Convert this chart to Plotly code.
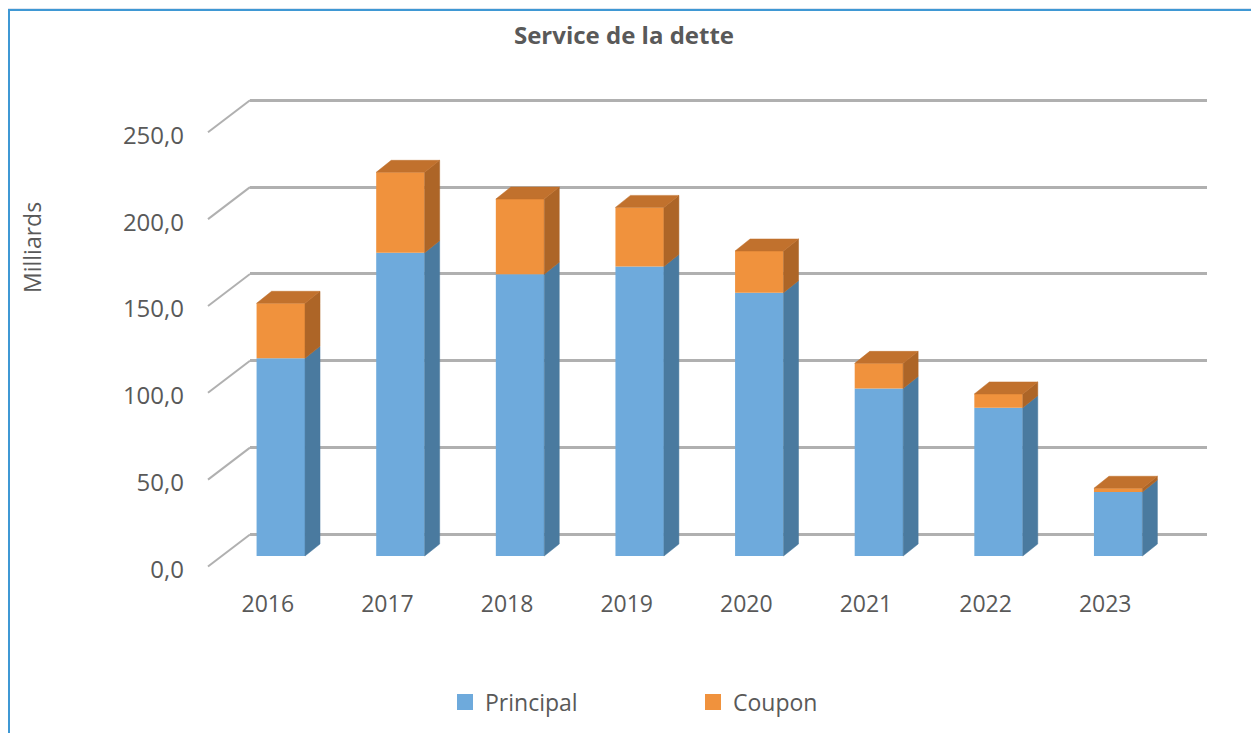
import plotly.graph_objects as go

# ---- data ----
years = ["2016", "2017", "2018", "2019", "2020", "2021", "2022", "2023"]
principal = [113.8, 174.6, 162.2, 166.6, 151.6, 96.5, 85.4, 36.8]
coupon = [31.7, 46.3, 43.3, 34.1, 24.0, 14.4, 7.9, 2.2]
y_ticks = [0, 50, 100, 150, 200, 250]
y_ticktext = ["0,0", "50,0", "100,0", "150,0", "200,0", "250,0"]

# ---- geometry / style constants (page px; page has 8px body margin) ----
OFF = 8
W, H = 1259 - OFF, 733 - OFF
PLOT_L, PLOT_R, PLOT_T, PLOT_B = 250 - OFF, 1207 - OFF, 90 - OFF, 570 - OFF
ML, MR, MT, MB = PLOT_L, W - PLOT_R, PLOT_T, H - PLOT_B
PW = PLOT_R - PLOT_L
PH = PLOT_B - PLOT_T
PX_PER_UNIT_Y = 1.737
PX_PER_CAT = PW / len(years)
BACK_ZERO_PX = 534.5 - OFF   # 0 gridline (back wall)
BAR_ZERO_PX = 556.0 - OFF    # bar bottoms (front face)
BAR_OFFSET = -0.445
BAR_WIDTH = 0.405
DEPTH_DX = 15 / PX_PER_CAT
DEPTH_DY = 12 / PX_PER_UNIT_Y
FRONT_SHIFT_X = -42 / PX_PER_CAT
DIAG_DX, DIAG_DY = -42, -32

C_P_FRONT, C_P_SIDE = "#6eaadc", "#4a7a9f"
C_C_FRONT, C_C_SIDE, C_C_TOP = "#f0923d", "#ad6527", "#c1712d"
GRID = "#b0b0b0"
TXT = "#595959"
FONT = "Open Sans"

y_r0 = (BACK_ZERO_PX - PLOT_B) / PX_PER_UNIT_Y
y_range = [y_r0, y_r0 + PH / PX_PER_UNIT_Y]
y2_r0 = (BAR_ZERO_PX - PLOT_B) / PX_PER_UNIT_Y
y2_range = [y2_r0, y2_r0 + PH / PX_PER_UNIT_Y]

idx = list(range(len(years)))
totals = [p + c for p, c in zip(principal, coupon)]

fig = go.Figure()

fig.add_trace(go.Bar(x=idx, y=principal, offset=BAR_OFFSET, width=BAR_WIDTH,
                     marker=dict(color=C_P_FRONT, line=dict(width=0)),
                     yaxis="y2", showlegend=False, name="Principal"))
fig.add_trace(go.Bar(x=idx, y=coupon, base=principal, offset=BAR_OFFSET, width=BAR_WIDTH,
                     marker=dict(color=C_C_FRONT, line=dict(width=0)),
                     yaxis="y2", showlegend=False, name="Coupon"))


def side_poly(b_list, t_list):
    xs, ys = [], []
    for i, b, t in zip(idx, b_list, t_list):
        xr = i + BAR_OFFSET + BAR_WIDTH
        xs += [xr, xr + DEPTH_DX, xr + DEPTH_DX, xr, xr, None]
        ys += [b, b + DEPTH_DY, t + DEPTH_DY, t, b, None]
    return xs, ys


def top_poly(t_list):
    xs, ys = [], []
    for i, t in zip(idx, t_list):
        xl = i + BAR_OFFSET
        xr = xl + BAR_WIDTH
        xs += [xl, xr, xr + DEPTH_DX, xl + DEPTH_DX, xl, None]
        ys += [t, t, t + DEPTH_DY, t + DEPTH_DY, t, None]
    return xs, ys


for (xs, ys), col in [
    (side_poly([0] * len(idx), principal), C_P_SIDE),
    (side_poly(principal, totals), C_C_SIDE),
    (top_poly(totals), C_C_TOP),
]:
    fig.add_trace(go.Scatter(x=xs, y=ys, yaxis="y2", mode="lines", fill="toself",
                             fillcolor=col, line=dict(color=col, width=0.5),
                             hoverinfo="skip", showlegend=False))

# legend entries
for name, col in [("Principal", C_P_FRONT), ("Coupon", C_C_FRONT)]:
    fig.add_trace(go.Scatter(x=[None], y=[None], mode="markers", name=name,
                             marker=dict(symbol="square", size=16, color=col)))

shapes = []
# white chart panel with blue border
shapes.append(dict(type="rect", xref="paper", yref="paper", layer="below",
                   x0=(1 - PLOT_L) / PW, x1=(W + 20 - PLOT_L) / PW,
                   y0=(PLOT_B - (H + 20)) / PH, y1=(PLOT_B - (10 - OFF)) / PH,
                   fillcolor="white", line=dict(color="#3f98d4", width=2)))
# diagonal side-wall gridline segments
for v in y_ticks:
    shapes.append(dict(type="line", xref="paper", yref="y", layer="below",
                       xsizemode="pixel", xanchor=0, x0=DIAG_DX, x1=0,
                       ysizemode="pixel", yanchor=v, y0=DIAG_DY, y1=0,
                       line=dict(color=GRID, width=2)))

fig.update_layout(
    width=W, height=H,
    margin=dict(l=ML, r=MR, t=MT, b=MB, autoexpand=False),
    paper_bgcolor="#dfe6f0", plot_bgcolor="white",
    font=dict(family=FONT, color=TXT, size=24),
    title=dict(text="<b>Service de la dette</b>", x=(624 - OFF) / W, xanchor="center",
               y=1 - (36 - OFF) / H, yanchor="middle",
               font=dict(family=FONT, size=24, color=TXT)),
    barmode="overlay",
    xaxis=dict(range=[-0.5, len(years) - 0.5], tickmode="array",
               tickvals=[i + FRONT_SHIFT_X for i in idx], ticktext=years,
               showgrid=False, zeroline=False, showline=False, ticks="",
               ticklabelstandoff=18, tickfont=dict(size=23, color=TXT)),
    yaxis=dict(range=y_range, tickmode="array", tickvals=y_ticks, ticktext=y_ticktext,
               showgrid=True, gridcolor=GRID, gridwidth=2.5, zeroline=False,
               showline=False, ticks="", ticklabelstandoff=65, ticklabelshift=35,
               tickfont=dict(size=24, color=TXT)),
    yaxis2=dict(range=y2_range, overlaying="y", visible=False),
    legend=dict(orientation="h", x=(445 - OFF - PLOT_L) / PW, xanchor="left",
                y=(PLOT_B - (702 - OFF)) / PH, yanchor="middle",
                entrywidth=203, entrywidthmode="pixels",
                font=dict(size=23, color=TXT), bgcolor="rgba(0,0,0,0)"),
    annotations=[dict(text="Milliards", textangle=-90, xref="paper", yref="paper",
                      x=(32 - OFF - PLOT_L) / PW, y=(PLOT_B - (248 - OFF)) / PH,
                      showarrow=False, xanchor="center", yanchor="middle",
                      font=dict(size=23, color=TXT))],
    shapes=shapes,
)

fig.write_html("out.html")
